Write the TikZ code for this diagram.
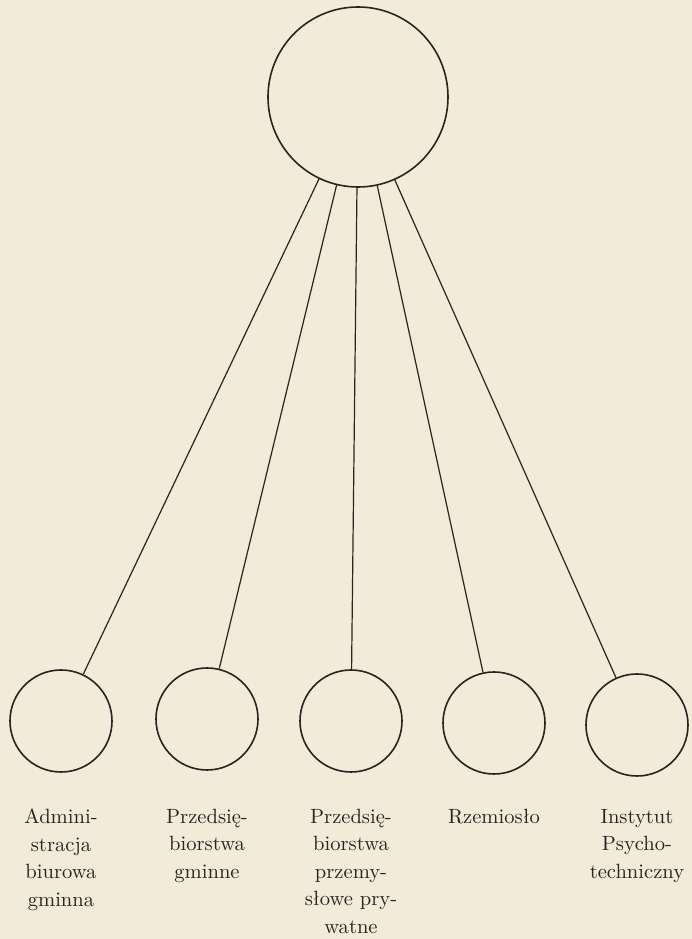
\documentclass[tikz,border=0pt]{standalone}
\usepackage{fontspec}
\usepackage{tikz}
\usetikzlibrary{positioning}
\definecolor{paper}{RGB}{242, 235, 218}
\definecolor{ink}{RGB}{40, 36, 32}

\begin{document}
\begin{tikzpicture}[x=0.5pt, y=0.5pt,
    bigcirc/.style={circle, draw=ink, line width=0.8pt, minimum size=90pt, inner sep=0pt},
    smallcirc/.style={circle, draw=ink, line width=0.8pt, minimum size=51pt, inner sep=0pt},
    caption/.style={align=center, inner sep=0pt, text=ink, font={\fontsize{10.3}{13.75}\selectfont}},
    link/.style={draw=ink, line width=0.6pt}]
                % paper background
                \fill[paper] (0,0) rectangle (692,939);
                \useasboundingbox (0,0) rectangle (692,939);

                % top circle
                \node[bigcirc] (top) at (358,842) {};

                % bottom circles
                \node[smallcirc] (admin) at (61,218) {};
                \node[smallcirc] (gminne) at (207,220) {};
                \node[smallcirc] (prywatne) at (351,218) {};
                \node[smallcirc] (rzemioslo) at (494,216) {};
                \node[smallcirc] (instytut) at (637,214) {};

                % links
                \draw[link] (top) -- (admin);
                \draw[link] (top) -- (gminne);
                \draw[link] (top) -- (prywatne);
                \draw[link] (top) -- (rzemioslo);
                \draw[link] (top) -- (instytut);

                % captions
                \node[caption, below=18pt of admin] (admin-t) {Admini-\\stracja\\biurowa\\gminna};
                \node[caption, below=19pt of gminne] (gminne-t) {Przedsię-\\biorstwa\\gminne};
                \node[caption, below=18pt of prywatne] (prywatne-t) {Przedsię-\\biorstwa\\przemy-\\słowe pry-\\watne};
                \node[caption, below=17pt of rzemioslo] (rzemioslo-t) {Rzemiosło};
                \node[caption, below=16pt of instytut] (instytut-t) {Instytut\\Psycho-\\techniczny};
            \end{tikzpicture}
\end{document}
